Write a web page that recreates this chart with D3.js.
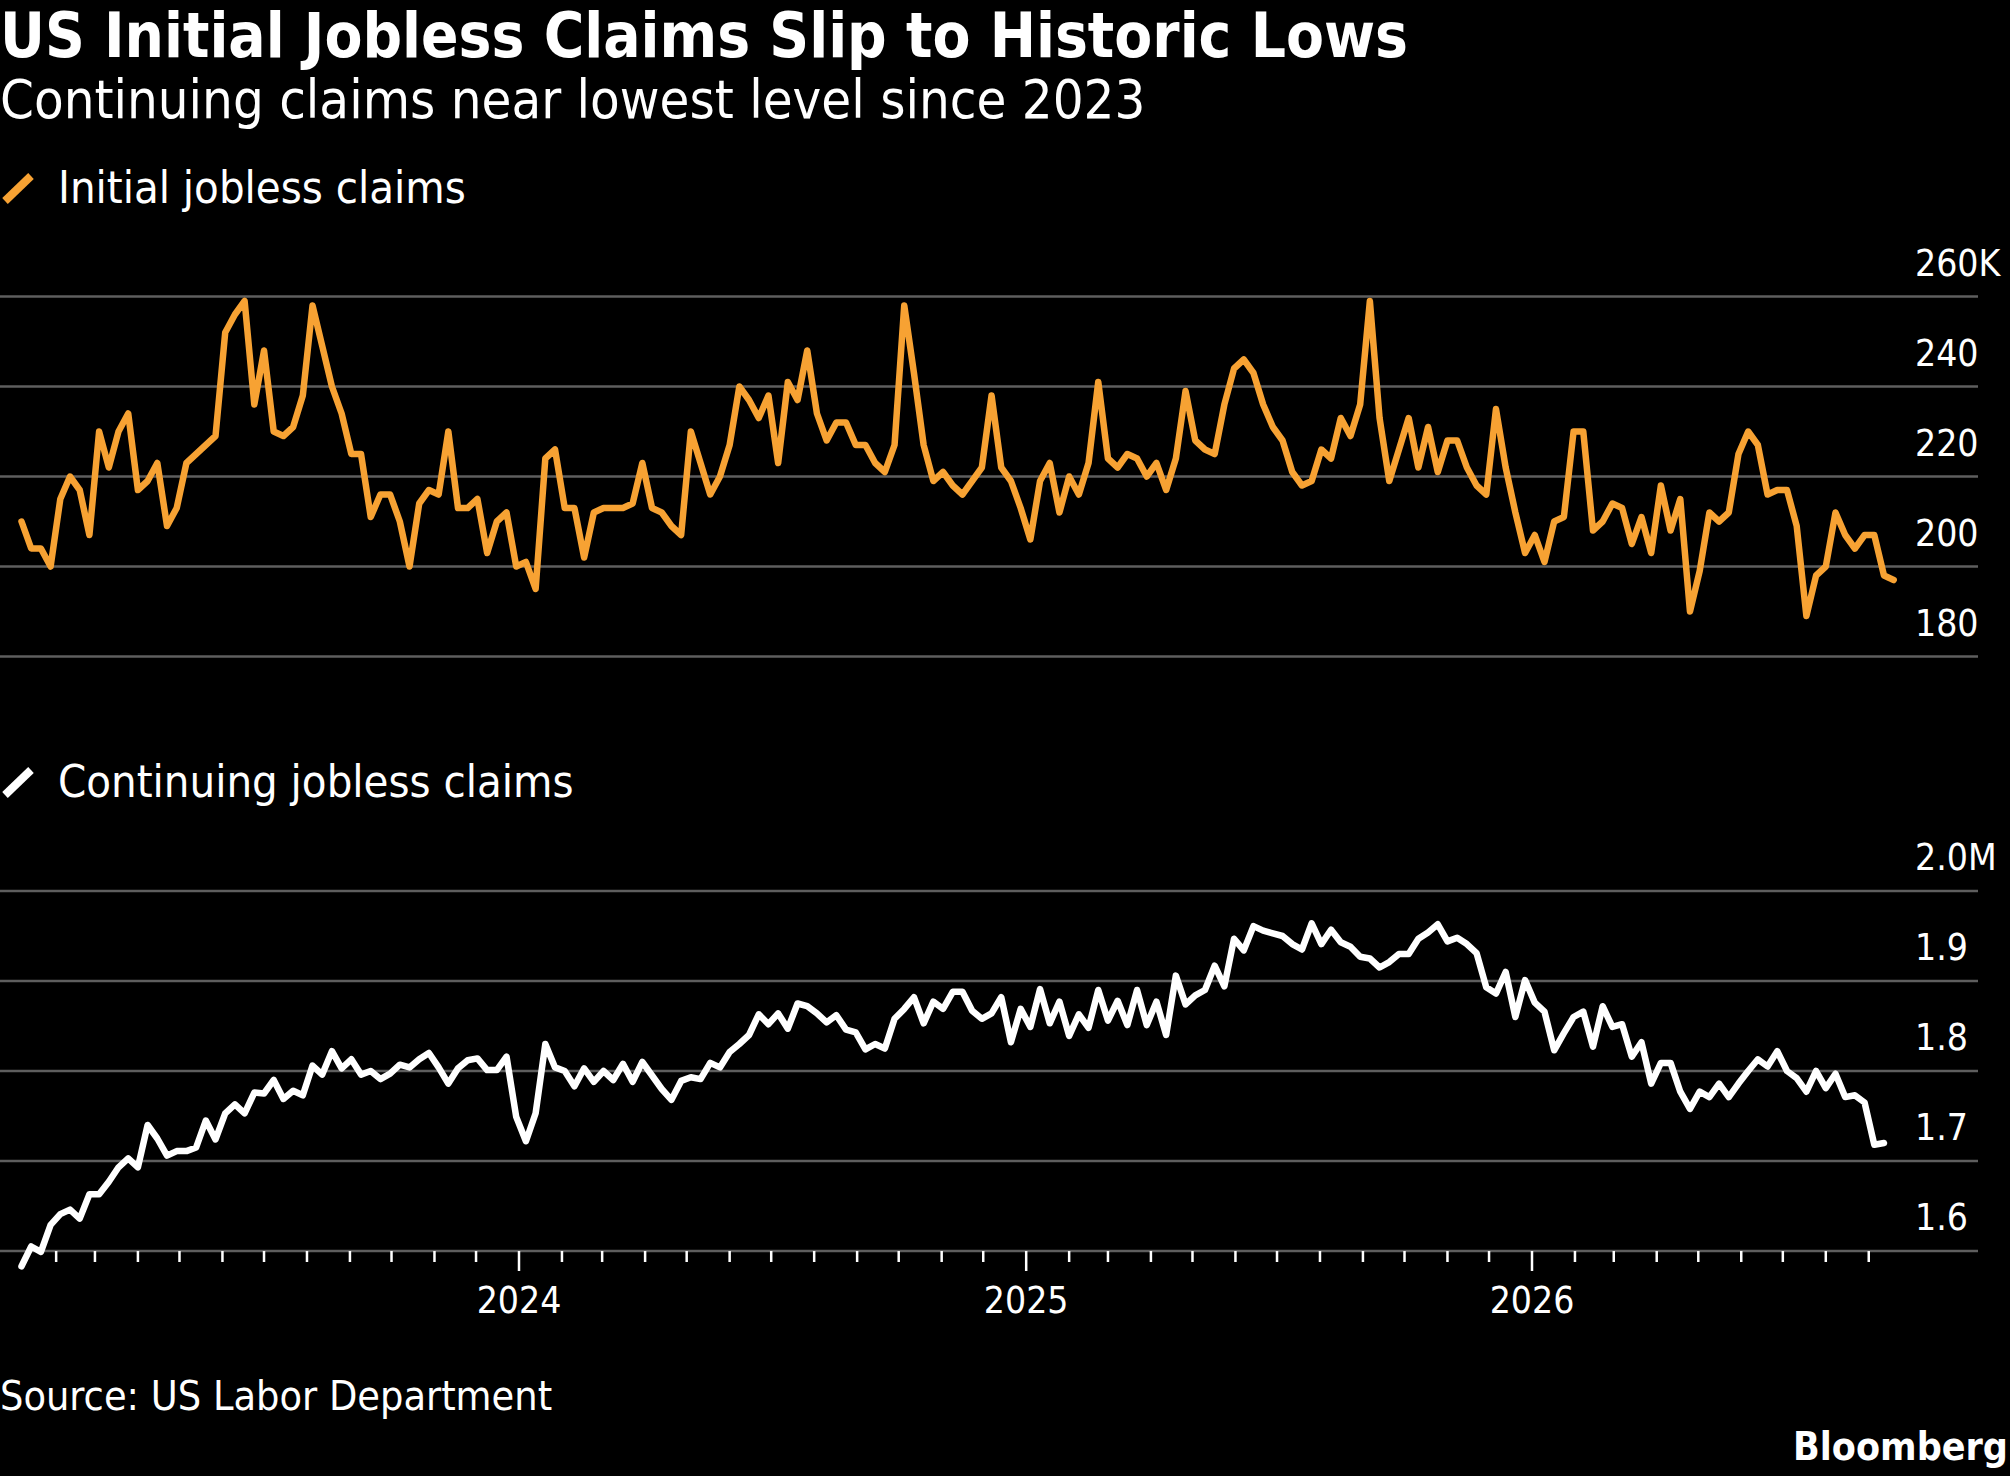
<!DOCTYPE html>
<html>
<head>
<meta charset="utf-8">
<script src="https://cdn.jsdelivr.net/npm/d3@7"></script>
<style>
  html, body { margin: 0; padding: 0; background: #000; }
  svg text { font-family: "DejaVu Sans Condensed", "DejaVu Sans", sans-serif; font-stretch: condensed; }
</style>
</head>
<body>
<div id="chart"></div>
<script>

var width_chart = 2010,
    height_chart = 1476;

var color_initial = "#f7a233";
var color_continuing = "#ffffff";
var color_grid = "#5e5e5e";

// week ending dates, first week in the chart
var first_week = new Date(Date.UTC(2023, 0, 7));

// initial jobless claims, thousands, weekly
var initial_claims = [
  210, 204, 204, 200, 215, 220, 217, 207, 230, 222,
  230, 234, 217, 219, 223, 209, 213, 223, 225, 227,
  229, 252, 256, 259, 236, 248, 230, 229, 231, 238,
  258, 249, 240, 234, 225, 225, 211, 216, 216, 210,
  200, 214, 217, 216, 230, 213, 213, 215, 203, 210,
  212, 200, 201, 195, 224, 226, 213, 213, 202, 212,
  213, 213, 213, 214, 223, 213, 212, 209, 207, 230,
  223, 216, 220, 227, 240, 237, 233, 238, 223, 241,
  237, 248, 234, 228, 232, 232, 227, 227, 223, 221,
  227, 258, 243, 227, 219, 221, 218, 216, 219, 222,
  238, 222, 219, 213, 206, 219, 223, 212, 220, 216,
  223, 241, 224, 222, 225, 224, 220, 223, 217, 224,
  239, 228, 226, 225, 236, 244, 246, 243, 236, 231,
  228, 221, 218, 219, 226, 224, 233, 229, 236, 259,
  233, 219, 226, 233, 222, 231, 221, 228, 228, 222,
  218, 216, 235, 222, 212, 203, 207, 201, 210, 211,
  230, 230, 208, 210, 214, 213, 205, 211, 203, 218,
  208, 215, 190, 199, 212, 210, 212, 225, 230, 227,
  216, 217, 217, 209, 189, 198, 200, 212, 207, 204,
  207, 207, 198, 197
];

// continuing jobless claims, millions, weekly (one week shorter)
var continuing_claims = [
  1.583, 1.605, 1.599, 1.629, 1.641, 1.646, 1.636, 1.663, 1.663, 1.677,
  1.693, 1.703, 1.693, 1.740, 1.725, 1.706, 1.711, 1.711, 1.715, 1.745,
  1.724, 1.753, 1.763, 1.753, 1.776, 1.775, 1.790, 1.769, 1.778, 1.773,
  1.806, 1.796, 1.822, 1.803, 1.813, 1.796, 1.800, 1.791, 1.797, 1.807,
  1.804, 1.813, 1.820, 1.804, 1.786, 1.803, 1.812, 1.814, 1.801, 1.801,
  1.816, 1.749, 1.722, 1.753, 1.830, 1.804, 1.800, 1.783, 1.803, 1.788,
  1.800, 1.790, 1.808, 1.788, 1.810, 1.795, 1.780, 1.768, 1.789, 1.793,
  1.791, 1.809, 1.804, 1.821, 1.830, 1.840, 1.863, 1.852, 1.864, 1.847,
  1.875, 1.872, 1.864, 1.854, 1.862, 1.846, 1.843, 1.824, 1.830, 1.825,
  1.858, 1.869, 1.882, 1.853, 1.877, 1.869, 1.888, 1.888, 1.867, 1.858,
  1.864, 1.882, 1.832, 1.869, 1.849, 1.891, 1.853, 1.877, 1.839, 1.863,
  1.848, 1.890, 1.856, 1.878, 1.851, 1.890, 1.851, 1.877, 1.840, 1.906,
  1.874, 1.884, 1.890, 1.917, 1.894, 1.947, 1.934, 1.961, 1.956, 1.953,
  1.950, 1.941, 1.935, 1.964, 1.941, 1.957, 1.943, 1.938, 1.927, 1.925,
  1.915, 1.921, 1.930, 1.930, 1.947, 1.954, 1.963, 1.944, 1.948, 1.941,
  1.931, 1.893, 1.886, 1.910, 1.860, 1.901, 1.876, 1.866, 1.823, 1.842,
  1.860, 1.866, 1.827, 1.872, 1.849, 1.852, 1.816, 1.832, 1.786, 1.809,
  1.809, 1.777, 1.758, 1.777, 1.771, 1.786, 1.771, 1.786, 1.800, 1.813,
  1.805, 1.822, 1.800, 1.792, 1.777, 1.800, 1.781, 1.797, 1.771, 1.773,
  1.765, 1.718, 1.720
];

var initial_ticks = [180, 200, 220, 240, 260];
var initial_tick_labels = ["180", "200", "220", "240", "260K"];
var continuing_ticks = [1.6, 1.7, 1.8, 1.9, 2.0];
var continuing_tick_labels = ["1.6", "1.7", "1.8", "1.9", "2.0M"];

var title = "US Initial Jobless Claims Slip to Historic Lows";
var subtitle = "Continuing claims near lowest level since 2023";
var legend_initial = "Initial jobless claims";
var legend_continuing = "Continuing jobless claims";
var source_text = "Source: US Labor Department";

function week_date(i) {
	return d3.utcDay.offset(first_week, 7 * i);
}

var svg = d3.select("#chart").append("svg")
    .attr("width", width_chart)
    .attr("height", height_chart)
    .style("background", "#000");

// shared time scale
var x = d3.scaleUtc()
    .domain([new Date(Date.UTC(2024, 0, 1)), new Date(Date.UTC(2026, 0, 1))])
    .range([519, 1532]);

var grid_x1 = 0, grid_x2 = 1978, label_x = 1915;

var y_initial = d3.scaleLinear().domain([180, 260]).range([656.5, 296.5]);
var y_continuing = d3.scaleLinear().domain([1.6, 2.0]).range([1251, 891]);

// header
svg.append("text")
    .attr("x", 0).attr("y", 57)
    .style("font-size", "61.5px").style("font-weight", "bold")
    .style("fill", "#fff")
    .text(title);

svg.append("text")
    .attr("x", 0).attr("y", 118)
    .style("font-size", "54px")
    .style("fill", "#fff")
    .text(subtitle);

function draw_legend(y_base, color, label) {
	svg.append("line")
	  .attr("x1", 5).attr("y1", y_base - 2)
	  .attr("x2", 31).attr("y2", y_base - 27)
	  .style("stroke", color)
	  .style("stroke-width", 8);
	svg.append("text")
	  .attr("x", 58).attr("y", y_base)
	  .style("font-size", "45px")
	  .style("fill", "#fff")
	  .text(label);
}

function draw_grid(y, ticks, labels) {
	var g = svg.append("g");
	g.selectAll("line")
	  .data(ticks)
	  .enter().append("line")
	  .attr("x1", grid_x1).attr("x2", grid_x2)
	  .attr("y1", function(d) { return y(d); })
	  .attr("y2", function(d) { return y(d); })
	  .style("stroke", color_grid)
	  .style("stroke-width", 2.5);
	g.selectAll("text")
	  .data(ticks)
	  .enter().append("text")
	  .attr("x", label_x)
	  .attr("y", function(d) { return y(d) - 21; })
	  .style("font-size", "37px")
	  .style("fill", "#fff")
	  .text(function(d, i) { return labels[i]; });
}

draw_legend(203, color_initial, legend_initial);
draw_grid(y_initial, initial_ticks, initial_tick_labels);

draw_legend(797, color_continuing, legend_continuing);
draw_grid(y_continuing, continuing_ticks, continuing_tick_labels);

// x axis ticks: monthly, longer at the year
var months = d3.utcMonth.range(new Date(Date.UTC(2023, 1, 1)), new Date(Date.UTC(2026, 9, 1)));
var axis_y = y_continuing(1.6);

svg.append("g").selectAll("line")
    .data(months)
    .enter().append("line")
    .attr("x1", function(d) { return x(d); })
    .attr("x2", function(d) { return x(d); })
    .attr("y1", axis_y)
    .attr("y2", function(d) { return d.getUTCMonth() == 0 ? axis_y + 20 : axis_y + 11; })
    .style("stroke", "#fff")
    .style("stroke-width", 2.5);

svg.append("g").selectAll("text")
    .data(months.filter(function(d) { return d.getUTCMonth() == 0; }))
    .enter().append("text")
    .attr("x", function(d) { return x(d); })
    .attr("y", axis_y + 62)
    .attr("text-anchor", "middle")
    .style("font-size", "37px")
    .style("fill", "#fff")
    .text(function(d) { return d.getUTCFullYear(); });

// the two series
var line_initial = d3.line()
    .x(function(d, i) { return x(week_date(i)); })
    .y(function(d) { return y_initial(d); });

var line_continuing = d3.line()
    .x(function(d, i) { return x(week_date(i)); })
    .y(function(d) { return y_continuing(d); });

svg.append("path")
    .datum(initial_claims)
    .attr("d", line_initial)
    .style("fill", "none")
    .style("stroke", color_initial)
    .style("stroke-width", 6.5)
    .style("stroke-linejoin", "round")
    .style("stroke-linecap", "round");

svg.append("path")
    .datum(continuing_claims)
    .attr("d", line_continuing)
    .style("fill", "none")
    .style("stroke", color_continuing)
    .style("stroke-width", 6.5)
    .style("stroke-linejoin", "round")
    .style("stroke-linecap", "round");

// footer
svg.append("text")
    .attr("x", 0).attr("y", 1410)
    .style("font-size", "41px")
    .style("fill", "#fff")
    .text(source_text);

svg.append("text")
    .attr("x", 2008).attr("y", 1460)
    .attr("text-anchor", "end")
    .style("font-size", "39px").style("font-weight", "bold")
    .style("fill", "#fff")
    .text("Bloomberg");

</script>
</body>
</html>
